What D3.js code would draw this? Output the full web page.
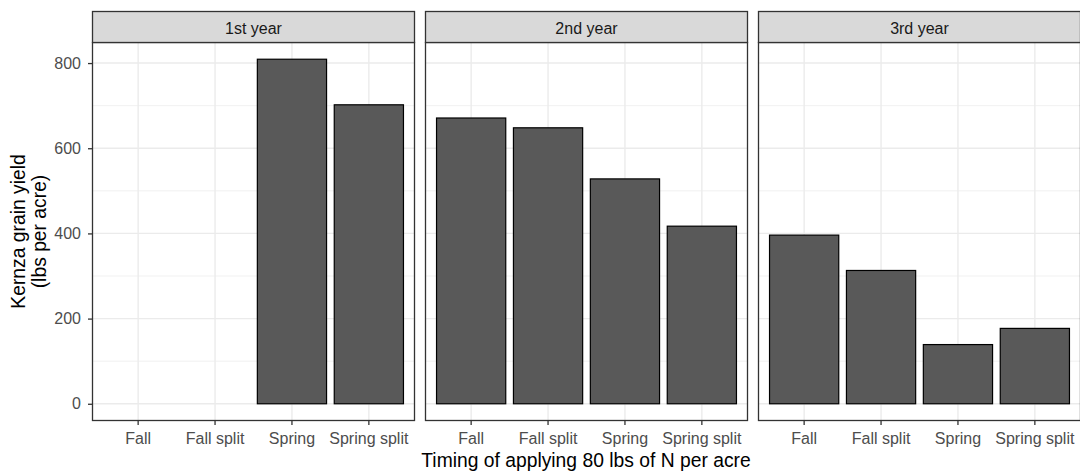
<!DOCTYPE html>
<html>
<head>
<meta charset="utf-8">
<script src="https://cdn.jsdelivr.net/npm/d3@7"></script>
<style>
  html, body { margin: 0; padding: 0; background: #fff; }
  svg { display: block; font-family: "Liberation Sans", Arial, sans-serif; }
</style>
</head>
<body>
<div id="chart"></div>
<script>
// facet labels, x categories and yields (lbs per acre)
const years = ['1st year', '2nd year', '3rd year'];
const timings = ['Fall', 'Fall split', 'Spring', 'Spring split'];
const yield1st = [null, null, 809, 702];
const yield2nd = [671, 648, 528, 417];
const yield3rd = [396, 313, 139, 177];
const yTicks = [0, 200, 400, 600, 800];
const yMinor = [100, 300, 500, 700];

const yields = [yield1st, yield2nd, yield3rd];

const W = 1080, H = 472;
const panelLeft = 92, panelW = 323, panelGap = 10;
const stripTop = 11, stripH = 31;
const panelTop = stripTop + stripH, panelBottom = 421;
const font = '"Liberation Sans", Arial, sans-serif';

const svg = d3.select('#chart').append('svg')
  .attr('width', W).attr('height', H);

const maxVal = d3.max(yields.flat());
const pad = maxVal * 0.05;
const y = d3.scaleLinear()
  .domain([-pad, maxVal + pad])
  .range([panelBottom, panelTop]);

years.forEach((yr, i) => {
  const x0 = panelLeft + i * (panelW + panelGap);
  const x = d3.scaleBand()
    .domain(timings)
    .range([x0, x0 + panelW])
    .paddingInner(0.1)
    .paddingOuter(0.15);

  const g = svg.append('g');

  // grid
  g.selectAll('.minor').data(yMinor).join('line')
    .attr('x1', x0).attr('x2', x0 + panelW)
    .attr('y1', d => y(d)).attr('y2', d => y(d))
    .attr('stroke', '#EBEBEB').attr('stroke-width', 0.7);
  g.selectAll('.major').data(yTicks).join('line')
    .attr('x1', x0).attr('x2', x0 + panelW)
    .attr('y1', d => y(d)).attr('y2', d => y(d))
    .attr('stroke', '#EBEBEB').attr('stroke-width', 1.4);
  g.selectAll('.vgrid').data(timings).join('line')
    .attr('x1', d => x(d) + x.bandwidth() / 2).attr('x2', d => x(d) + x.bandwidth() / 2)
    .attr('y1', panelTop).attr('y2', panelBottom)
    .attr('stroke', '#EBEBEB').attr('stroke-width', 1.4);

  // bars
  const rows = timings.map((t, j) => ({ t, v: yields[i][j] })).filter(d => d.v != null);
  g.selectAll('rect.bar').data(rows).join('rect')
    .attr('class', 'bar')
    .attr('x', d => x(d.t))
    .attr('width', x.bandwidth())
    .attr('y', d => y(d.v))
    .attr('height', d => y(0) - y(d.v))
    .attr('fill', '#595959')
    .attr('stroke', '#000')
    .attr('stroke-width', 1.2);

  // panel border
  g.append('rect')
    .attr('x', x0 + 0.5).attr('y', panelTop + 0.5)
    .attr('width', panelW - 1).attr('height', panelBottom - panelTop - 1)
    .attr('fill', 'none').attr('stroke', '#333333').attr('stroke-width', 1.3);

  // strip
  g.append('rect')
    .attr('x', x0 + 0.5).attr('y', stripTop + 0.5)
    .attr('width', panelW - 1).attr('height', stripH)
    .attr('fill', '#D9D9D9').attr('stroke', '#333333').attr('stroke-width', 1.3);
  g.append('text')
    .attr('x', x0 + panelW / 2).attr('y', stripTop + 22.5)
    .attr('text-anchor', 'middle')
    .attr('fill', '#1A1A1A').style('font-size', '16px')
    .text(yr);

  // x axis
  const xa = g.append('g')
    .attr('transform', `translate(0,${panelBottom})`)
    .call(d3.axisBottom(x).tickSize(4).tickPadding(8));
  xa.select('.domain').remove();
  xa.selectAll('line').attr('stroke', '#333333').attr('stroke-width', 1.3);
  xa.selectAll('text').attr('fill', '#4D4D4D')
    .style('font-size', '16px').style('font-family', font);

  // y axis on first panel only
  if (i === 0) {
    const ya = g.append('g')
      .attr('transform', `translate(${x0},0)`)
      .call(d3.axisLeft(y).tickValues(yTicks).tickSize(4).tickPadding(7));
    ya.select('.domain').remove();
    ya.selectAll('line').attr('stroke', '#333333').attr('stroke-width', 1.3);
    ya.selectAll('text').attr('fill', '#4D4D4D')
      .style('font-size', '16px').style('font-family', font);
  }
});

// axis titles
svg.append('text')
  .attr('x', 586).attr('y', 467)
  .attr('text-anchor', 'middle')
  .style('font-size', '19.3px').attr('fill', '#000')
  .text('Timing of applying 80 lbs of N per acre');

const yt = svg.append('text')
  .attr('transform', `translate(0,${(panelTop + panelBottom) / 2}) rotate(-90)`)
  .attr('text-anchor', 'middle')
  .style('font-size', '19.3px').attr('fill', '#000');
yt.append('tspan').attr('x', 0).attr('y', 25).text('Kernza grain yield');
yt.append('tspan').attr('x', 0).attr('y', 46).text('(lbs per acre)');
</script>
</body>
</html>
